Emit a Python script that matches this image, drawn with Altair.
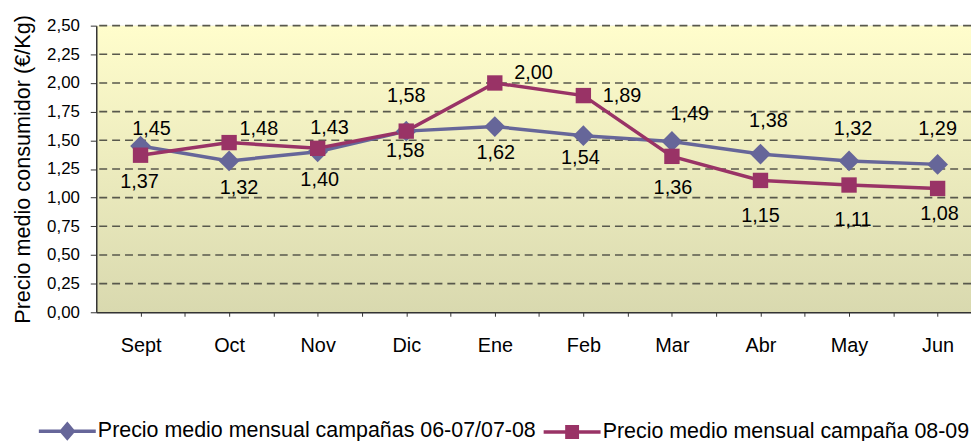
import json
import altair as alt
import pandas as pd

# ---- data ----
months = ["Sept", "Oct", "Nov", "Dic", "Ene", "Feb", "Mar", "Abr", "May", "Jun"]
series_names = ["Precio medio mensual campañas 06-07/07-08",
                "Precio medio mensual campaña 08-09"]
s1 = [1.45, 1.32, 1.40, 1.58, 1.62, 1.54, 1.49, 1.38, 1.32, 1.29]
s2 = [1.37, 1.48, 1.43, 1.58, 2.00, 1.89, 1.36, 1.15, 1.11, 1.08]
y_ticks = [0.0, 0.25, 0.5, 0.75, 1.0, 1.25, 1.5, 1.75, 2.0, 2.25, 2.5]
x_ticks = [0, 0.5, 1, 1.5, 2, 2.5, 3, 3.5, 4, 4.5, 5, 5.5, 6, 6.5, 7, 7.5, 8, 8.5, 9]

# label placement (pixel offsets of each value label from its point)
s1_dx = [11, 10, 2, -1, 1, -3, 18, 8, 4, 0]
s1_dy = [-17, 27, 29, 20, 27, 23, -28, -33, -32, -36]
s2_dx = [-1, 30, 12, 0, 39, 39, 1, 0, 4, 2]
s2_dy = [27, -14, -20, -35, -10, 0, 32, 36, 35, 26]

rows = []
for i, m in enumerate(months):
    rows.append(dict(idx=i, mes=m, serie=series_names[0], valor=s1[i],
                     etiqueta=f"{s1[i]:.2f}".replace(".", ","), ldx=s1_dx[i], ldy=s1_dy[i]))
    rows.append(dict(idx=i, mes=m, serie=series_names[1], valor=s2[i],
                     etiqueta=f"{s2[i]:.2f}".replace(".", ","), ldx=s2_dx[i], ldy=s2_dy[i]))
df = pd.DataFrame(rows)
grid_df = pd.DataFrame({"valor": y_ticks[1:]})

FONT = "Liberation Sans"
colors = ["#666699", "#993366"]
W, H = 882, 289

xscale = alt.Scale(domain=[-0.5, 9.377], nice=False, zero=False)
yscale = alt.Scale(domain=[0, 2.5], nice=False, zero=True)
color_scale = alt.Scale(domain=series_names, range=colors)

x_label_expr = json.dumps(months) + "[datum.value] || ''"

x_axis = alt.Axis(values=x_ticks, labelExpr=x_label_expr, title=None, grid=False,
                  tickSize=4, tickColor="#333333", domainColor="#333333", domainWidth=1.5,
                  labelFont=FONT, labelFontSize=20, labelColor="black", labelPadding=20,
                  zindex=1)
y_axis = alt.Axis(values=y_ticks, labelExpr="replace(format(datum.value, '.2f'), '.', ',')",
                  title="Precio medio consumidor (€/Kg)", grid=False,
                  tickSize=6, tickColor="#333333", domainColor="#333333", domainWidth=1.5,
                  labelFont=FONT, labelFontSize=17, labelColor="black", labelPadding=11,
                  titleFont=FONT, titleFontSize=21.8, titleFontWeight="normal",
                  titleColor="black", titlePadding=12, zindex=1)

X = alt.X("idx:Q", scale=xscale, axis=x_axis)
Y = alt.Y("valor:Q", scale=yscale, axis=y_axis)

bg = alt.Chart(pd.DataFrame({"a": [0]})).mark_rect(
    color=alt.Gradient(gradient="linear", x1=0, y1=0, x2=0, y2=1,
                       stops=[alt.GradientStop(color="#FFFDCC", offset=0),
                              alt.GradientStop(color="#D9D9AF", offset=1)])
).encode(x=alt.value(0), x2=alt.value("width"), y=alt.value(0), y2=alt.value("height"))

grid = alt.Chart(grid_df).mark_rule(color="#58584c", strokeWidth=1.6, strokeDash=[8, 5]).encode(
    y=Y
)

diamond = "M0,-1.35L1.35,0L0,1.35L-1.35,0Z"
shapes = [diamond, "square"]
series_layers = []
for k in range(2):
    base = alt.Chart(df).transform_filter(alt.datum.serie == series_names[k])
    series_layers.append(base.mark_line(strokeWidth=3.5, color=colors[k]).encode(x=X, y=Y))
for k in range(2):
    base = alt.Chart(df).transform_filter(alt.datum.serie == series_names[k])
    series_layers.append(base.mark_point(filled=True, opacity=1, size=240, shape=shapes[k],
                                         color=colors[k]).encode(x=X, y=Y))

labels = alt.Chart(df).mark_text(
    font=FONT, fontSize=20, color="black", baseline="middle", align="center",
    dx=alt.ExprRef("datum.ldx"), dy=alt.ExprRef("datum.ldy")
).encode(x=X, y=Y, text="etiqueta:N")

leg_paths = ["M-4.1,0H4.1M0,-1L0.85,0L0,1L-0.85,0Z",
             "M-4.1,0H4.1M-0.75,-0.75H0.75V0.75H-0.75Z"]
leg = alt.Legend(
    title=None, orient="none", legendX=-40, legendY=398, direction="horizontal",
    labelFont=FONT, labelFontSize=21.6, labelColor="black", labelLimit=1000,
    labelOffset=20, columnPadding=0, symbolSize=196, symbolStrokeWidth=3.5,
    symbolOpacity=1,
)
legend_layer = alt.Chart(df).transform_filter("false").mark_point(
    filled=True, size=196, strokeWidth=3.5, opacity=1
).encode(
    x=X, y=Y,
    fill=alt.Fill("serie:N", scale=color_scale, legend=leg),
    stroke=alt.Stroke("serie:N", scale=color_scale, legend=leg),
    shape=alt.Shape("serie:N", scale=alt.Scale(domain=series_names, range=leg_paths), legend=leg),
)

chart = alt.layer(bg, grid, *series_layers, labels, legend_layer).properties(
    width=W, height=H, autosize="none",
    padding={"left": 89, "top": 16, "right": 0, "bottom": 128},
).configure_view(stroke=None).configure(background="white")

chart.save("out.html", embed_options={"renderer": "svg", "actions": False})
